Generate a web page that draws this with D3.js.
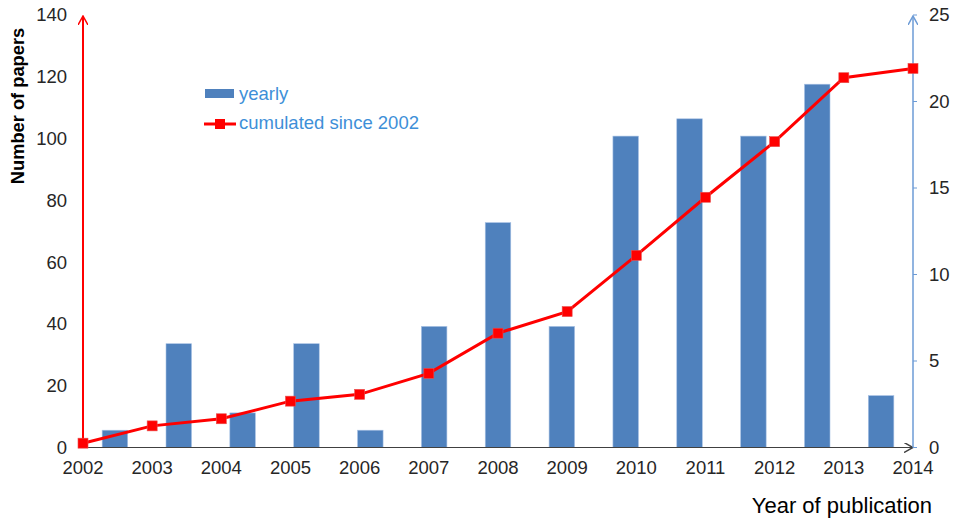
<!DOCTYPE html>
<html>
<head>
<meta charset="utf-8">
<script src="https://cdn.jsdelivr.net/npm/d3@7"></script>
<style>
  body { margin: 0; background: #fff; }
  text { font-family: Arial, "Liberation Sans", sans-serif; }
</style>
</head>
<body>
<svg class="chart"></svg>
<script>
var years = [2002, 2003, 2004, 2005, 2006, 2007, 2008, 2009, 2010, 2011, 2012, 2013, 2014];
var yearly = [1, 6, 2, 6, 1, 7, 13, 7, 18, 19, 18, 21, 3];
var cumulated = [1.4, 7, 9.3, 15, 17.2, 24, 37, 44, 62.2, 81, 99, 119.7, 122.7];
var leftTicks = [0, 20, 40, 60, 80, 100, 120, 140];
var rightTicks = [0, 5, 10, 15, 20, 25];

var width = 953, height = 518;
var x0 = 83, x1 = 913, yTop = 15, yBase = 447.5;

var svg = d3.select(".chart")
    .attr("width", width)
    .attr("height", height);

var defs = svg.append("defs");
function arrow(id, color) {
  defs.append("marker")
      .attr("id", id)
      .attr("viewBox", "0 0 10 10")
      .attr("refX", 9).attr("refY", 5)
      .attr("markerWidth", 10).attr("markerHeight", 10)
      .attr("markerUnits", "userSpaceOnUse")
      .attr("orient", "auto")
    .append("path")
      .attr("d", "M0,0 L9,5 L0,10")
      .attr("fill", "none")
      .attr("stroke", color)
      .attr("stroke-width", 1.5);
}
arrow("arrowRed", "#ff0000");
arrow("arrowBlue", "#6c9bd6");
arrow("arrowGrey", "#404040");

// scales
var xBand = d3.scaleBand().domain(years).range([x0, x1]).paddingInner(0).paddingOuter(0);
var xPoint = d3.scalePoint().domain(years).range([x0, x1]);
var yLeft = d3.scaleLinear().domain([0, 140]).range([yBase, yTop]);
var yRight = d3.scaleLinear().domain([0, 25]).range([yBase, yTop]);

// bars (yearly, right axis)
var barW = xBand.bandwidth() * 0.4;
svg.append("g").selectAll("rect")
    .data(yearly)
  .enter().append("rect")
    .attr("x", function(d, i) { return xBand(years[i]) + xBand.bandwidth() / 2 - barW / 2; })
    .attr("y", function(d) { return yRight(d); })
    .attr("width", barW)
    .attr("height", function(d) { return yBase - yRight(d); })
    .attr("fill", "#4f81bd")
    .attr("stroke", "#a9c2e4")
    .attr("stroke-width", 0.6);

// x axis
svg.append("line")
    .attr("x1", x0).attr("y1", yBase)
    .attr("x2", x1).attr("y2", yBase)
    .attr("stroke", "#404040")
    .attr("stroke-width", 1.2)
    .attr("marker-end", "url(#arrowGrey)");

svg.append("g").selectAll("text")
    .data(years)
  .enter().append("text")
    .attr("x", function(d) { return xPoint(d); })
    .attr("y", 468)
    .attr("dy", "0.35em")
    .attr("text-anchor", "middle")
    .attr("font-size", 18.5)
    .attr("fill", "#262626")
    .text(function(d) { return d; });

// left axis
svg.append("line")
    .attr("x1", x0).attr("y1", yBase)
    .attr("x2", x0).attr("y2", yTop + 1)
    .attr("stroke", "#ff0000")
    .attr("stroke-width", 2)
    .attr("marker-end", "url(#arrowRed)");

svg.append("g").selectAll("text")
    .data(leftTicks)
  .enter().append("text")
    .attr("x", 67)
    .attr("y", function(d) { return yLeft(d); })
    .attr("dy", "0.35em")
    .attr("text-anchor", "end")
    .attr("font-size", 18.5)
    .attr("fill", "#262626")
    .text(function(d) { return d; });

// right axis
svg.append("line")
    .attr("x1", x1).attr("y1", yBase)
    .attr("x2", x1).attr("y2", yTop + 1)
    .attr("stroke", "#6c9bd6")
    .attr("stroke-width", 1.5)
    .attr("marker-end", "url(#arrowBlue)");

var rt = svg.append("g").selectAll("g")
    .data(rightTicks)
  .enter().append("g")
    .attr("transform", function(d) { return "translate(" + x1 + "," + yRight(d) + ")"; });
rt.append("line")
    .attr("x1", 0).attr("x2", 4)
    .attr("stroke", "#6c9bd6")
    .attr("stroke-width", 1);
rt.append("text")
    .attr("x", 16)
    .attr("dy", "0.35em")
    .attr("font-size", 18.5)
    .attr("fill", "#262626")
    .text(function(d) { return d; });

// cumulated line (left axis)
var line = d3.line()
    .x(function(d, i) { return xPoint(years[i]); })
    .y(function(d) { return yLeft(d); });

svg.append("path")
    .datum(cumulated)
    .attr("d", line)
    .attr("fill", "none")
    .attr("stroke", "#ff0000")
    .attr("stroke-width", 3);

svg.append("g").selectAll("rect")
    .data(cumulated)
  .enter().append("rect")
    .attr("x", function(d, i) { return xPoint(years[i]) - 5; })
    .attr("y", function(d) { return yLeft(d) - 5; })
    .attr("width", 10)
    .attr("height", 10)
    .attr("fill", "#ff0000")
    .attr("stroke", "#e8504f")
    .attr("stroke-width", 0.6);

// axis titles
svg.append("text")
    .attr("transform", "translate(18,106) rotate(-90)")
    .attr("dy", "0.35em")
    .attr("text-anchor", "middle")
    .attr("font-size", 18.3)
    .attr("font-weight", "bold")
    .attr("fill", "#000")
    .text("Number of papers");

svg.append("text")
    .attr("x", 932)
    .attr("y", 505)
    .attr("dy", "0.35em")
    .attr("text-anchor", "end")
    .attr("font-size", 22)
    .attr("fill", "#000")
    .text("Year of publication");

// legend
var legend = svg.append("g");
legend.append("rect")
    .attr("x", 205).attr("y", 89)
    .attr("width", 29).attr("height", 9)
    .attr("fill", "#4f81bd");
legend.append("text")
    .attr("x", 239).attr("y", 94)
    .attr("dy", "0.35em")
    .attr("font-size", 18.5)
    .attr("fill", "#3e8fd8")
    .text("yearly");
legend.append("line")
    .attr("x1", 204).attr("x2", 236)
    .attr("y1", 124).attr("y2", 124)
    .attr("stroke", "#ff0000")
    .attr("stroke-width", 3);
legend.append("rect")
    .attr("x", 215).attr("y", 119)
    .attr("width", 10).attr("height", 10)
    .attr("fill", "#ff0000");
legend.append("text")
    .attr("x", 239).attr("y", 123)
    .attr("dy", "0.35em")
    .attr("font-size", 18.5)
    .attr("fill", "#3e8fd8")
    .text("cumulated since 2002");
</script>
</body>
</html>
